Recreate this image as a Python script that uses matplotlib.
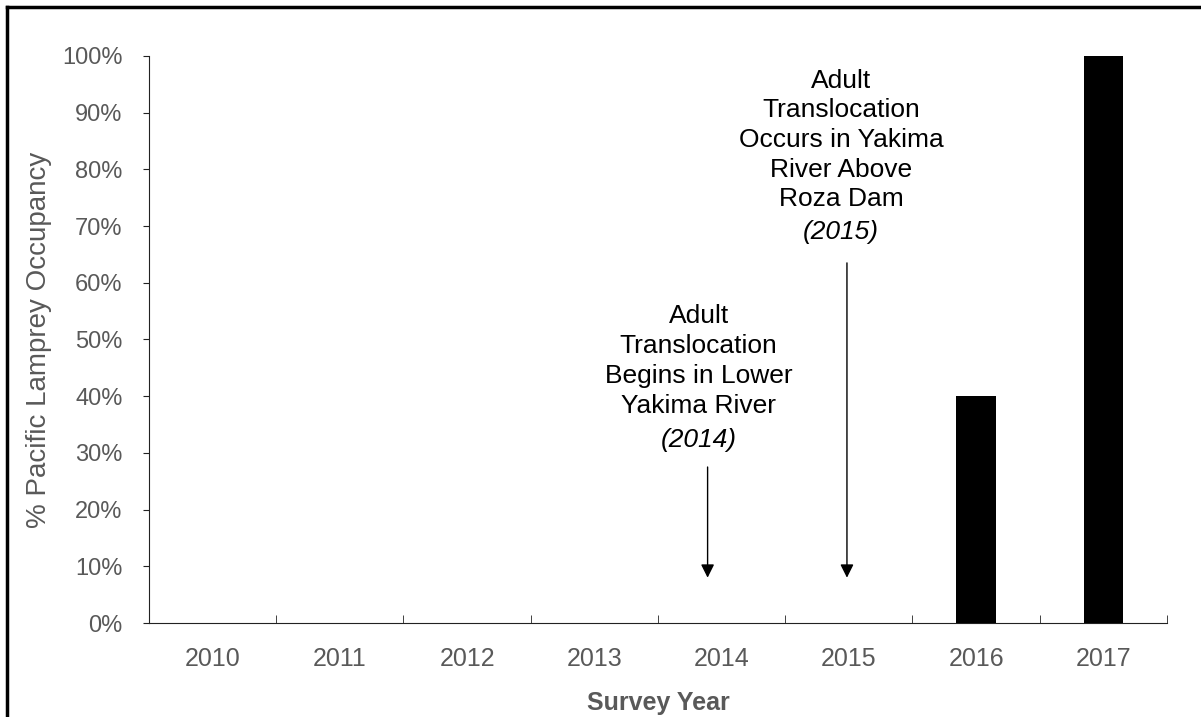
import matplotlib
matplotlib.use('Agg')
import matplotlib.pyplot as plt
from matplotlib.lines import Line2D
import numpy as np

plt.rcParams['font.family'] = ['Liberation Sans', 'DejaVu Sans']

years = ['2010', '2011', '2012', '2013', '2014', '2015', '2016', '2017']
occupancy = [0, 0, 0, 0, 0, 0, 40, 100]
yticks = [0, 10, 20, 30, 40, 50, 60, 70, 80, 90, 100]

note_2014 = ['Adult', 'Translocation', 'Begins in Lower', 'Yakima River']
note_2015 = ['Adult', 'Translocation', 'Occurs in Yakima', 'River Above', 'Roza Dam']

gray = '#595959'

fig = plt.figure(figsize=(12.01, 7.17), dpi=100)
ax = fig.add_axes([0.124, 0.1311, 0.8477, 0.7908])

x = np.arange(len(years))
ax.bar(x, occupancy, width=0.31, color='black', zorder=3)

ax.set_xlim(-0.5, len(years) - 0.5)
ax.set_ylim(0, 100)
ax.set_yticks(yticks)
ax.set_yticklabels([str(v) + '%' for v in yticks])
ax.set_xticks(x)
ax.set_xticklabels(years)
ax.set_xticks(np.arange(len(years)) + 0.5, minor=True)

ax.spines['top'].set_visible(False)
ax.spines['right'].set_visible(False)
ax.spines['left'].set_color('#222222')
ax.spines['bottom'].set_color('#222222')

ax.tick_params(axis='y', direction='out', length=4, pad=15, labelsize=17, labelcolor=gray, color='#222222')
ax.tick_params(axis='x', which='major', length=0, pad=17, labelsize=18, labelcolor=gray)
ax.tick_params(axis='x', which='minor', direction='in', length=6, color='#222222')

ax.set_xlabel('Survey Year', fontsize=18, fontweight='bold', color=gray, labelpad=15)
ax.set_ylabel('% Pacific Lamprey Occupancy', fontsize=20, color=gray, labelpad=7)

# 2014 note
ax.text(3.82, 46.2, '\n'.join(note_2014), ha='center', va='center', fontsize=19, linespacing=1.3)
ax.text(3.82, 32.3, '(2014)', ha='center', va='center', fontsize=19, style='italic')
ax.annotate('', xy=(3.89, 7.5), xytext=(3.89, 28),
            arrowprops=dict(arrowstyle='-|>', color='black', lw=1, mutation_scale=20))

# 2015 note
ax.text(4.94, 85.2, '\n'.join(note_2015), ha='center', va='center', fontsize=19, linespacing=1.3)
ax.text(4.94, 69.0, '(2015)', ha='center', va='center', fontsize=19, style='italic')
ax.annotate('', xy=(4.985, 7.5), xytext=(4.985, 64),
            arrowprops=dict(arrowstyle='-|>', color='black', lw=1, mutation_scale=20))

# outer frame (top and left edges)
fig.add_artist(Line2D([7 / 1201, 1], [1 - 7 / 717, 1 - 7 / 717], color='black', lw=2.5, transform=fig.transFigure))
fig.add_artist(Line2D([7 / 1201, 7 / 1201], [0, 1 - 7 / 717], color='black', lw=2.5, transform=fig.transFigure))

fig.savefig('out.png', dpi=100)
